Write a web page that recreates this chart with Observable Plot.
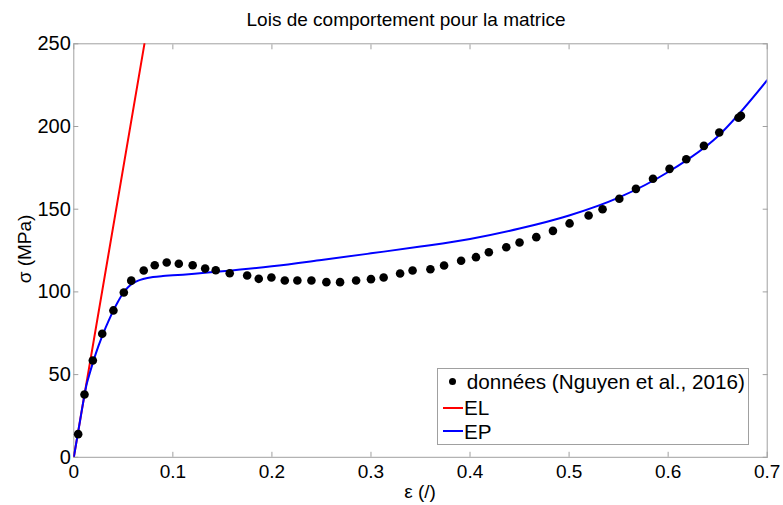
<!DOCTYPE html>
<html>
<head>
<meta charset="utf-8">
<script src="https://cdn.jsdelivr.net/npm/d3@7"></script>
<script src="https://cdn.jsdelivr.net/npm/@observablehq/plot@0.6"></script>
<style>
  html, body { margin: 0; padding: 0; background: #fff; }
  body { font-family: "Liberation Sans", Arial, sans-serif; }
  #wrap { position: relative; width: 783px; height: 505px; overflow: hidden; }
  #wrap svg { position: absolute; left: 0; top: 0; }
  .abs { position: absolute; white-space: nowrap; color: #000; }
</style>
</head>
<body>
<div id="wrap"></div>
<script>
// Data
const dataEps = [0.0044,0.0108,0.0192,0.0287,0.040,0.0505,0.058,0.0706,0.0817,0.0938,0.106,0.120,0.1326,0.1433,0.1574,0.175,0.1867,0.1995,0.213,0.2257,0.2399,0.255,0.2688,0.285,0.300,0.3128,0.3294,0.342,0.360,0.3738,0.391,0.406,0.419,0.4366,0.450,0.4669,0.4837,0.5005,0.5197,0.5338,0.5507,0.5675,0.5847,0.6014,0.6183,0.6361,0.6516,0.671,0.6735];
const dataSig = [14.0,38.0,58.5,74.7,88.8,99.6,106.8,112.9,116.1,117.8,117.0,116.1,114.1,113.1,111.3,109.9,107.9,108.7,106.9,106.9,106.9,105.9,105.9,106.9,107.7,108.7,111.1,112.9,113.7,116.0,118.8,121.0,124.0,127.0,129.9,133.1,136.9,141.4,146.2,150.0,156.3,162.3,168.4,174.4,180.2,188.3,196.4,205.3,206.5];

const elEps = [0, 0.0713];
const elSig = [0, 250];

const epEps = [0,0.005,0.01,0.0125,0.015,0.02,0.025,0.03,0.035,0.04,0.045,0.05,0.055,0.06,0.065,0.07,0.08,0.09,0.1,0.15,0.2,0.25,0.3,0.35,0.4,0.45,0.5,0.55,0.6,0.65,0.7];
const epSig = [0,17.5,35,43,48.5,58.6,67.5,75.3,82.3,88.8,94.5,99.5,103,105.3,106.8,107.8,109,109.6,110,112.5,115.5,119.3,123.3,127.4,132,138.3,146.2,157,172.5,194,228];

const xTicks = [0,0.1,0.2,0.3,0.4,0.5,0.6,0.7];
const yTicks = [0,50,100,150,200,250];

const titleText = "Lois de comportement pour la matrice";
const xLabel = "ε (/)";
const yLabel = "σ (MPa)";
const legendLabels = ["données (Nguyen et al., 2016)", "EL", "EP"];

const pts = dataEps.map((e, i) => ({e, s: dataSig[i]}));
const el = elEps.map((e, i) => ({e, s: elSig[i]}));
const ep = epEps.map((e, i) => ({e, s: epSig[i]}));

const gray = "#a0a0a0";
const fs = 19;

const chart = Plot.plot({
  width: 783,
  height: 505,
  marginLeft: 73.3,
  marginRight: 16.3,
  marginTop: 43.3,
  marginBottom: 48.2,
  style: {fontFamily: '"Liberation Sans", Arial, sans-serif', fontSize: fs + "px", background: "white", color: "black", overflow: "visible"},
  x: {domain: [0, 0.7]},
  y: {domain: [0, 250]},
  marks: [
    Plot.frame({stroke: gray, strokeWidth: 1}),
    // inward ticks on all four sides
    Plot.axisX(xTicks, {anchor: "bottom", tickSize: 5, insetBottom: 5, fill: "none", label: null, stroke: gray}),
    Plot.axisX(xTicks, {anchor: "top", tickSize: 5, insetTop: 5, fill: "none", label: null, stroke: gray}),
    Plot.axisY(yTicks, {anchor: "left", tickSize: 5, insetLeft: 5, fill: "none", label: null, stroke: gray}),
    Plot.axisY(yTicks, {anchor: "right", tickSize: 5, insetRight: 5, fill: "none", label: null, stroke: gray}),
    // tick labels
    Plot.axisX(xTicks, {anchor: "bottom", tickSize: 0, tickPadding: 7, label: null, fill: "black", fontSize: fs, tickFormat: d3.format("")}),
    Plot.axisY(yTicks, {anchor: "left", tickSize: 0, tickPadding: 3, label: null, fill: "black", fontSize: 20}),
    Plot.line(el, {x: "e", y: "s", stroke: "#ff0000", strokeWidth: 2, clip: true}),
    Plot.line(ep, {x: "e", y: "s", stroke: "#0000ff", strokeWidth: 2, curve: "monotone-x", clip: true}),
    Plot.dot(pts, {x: "e", y: "s", r: 4.3, fill: "black", stroke: "none"})
  ]
});

const wrap = document.getElementById("wrap");
wrap.appendChild(chart);

function addDiv(text, css) {
  const d = document.createElement("div");
  d.className = "abs";
  d.textContent = text;
  Object.assign(d.style, css);
  wrap.appendChild(d);
  return d;
}

// title
addDiv(titleText, {left: "406px", top: "8px", fontSize: fs + "px", lineHeight: "24px", transform: "translateX(-50%)"});
// x label
addDiv(xLabel, {left: "420px", top: "480px", fontSize: fs + "px", lineHeight: "24px", transform: "translateX(-50%)"});
// y label
addDiv(yLabel, {left: "25px", top: "249px", fontSize: fs + "px", lineHeight: "24px", transform: "translate(-50%,-50%) rotate(-90deg)"});

// legend
const leg = document.createElement("div");
Object.assign(leg.style, {position: "absolute", left: "437px", top: "368px", width: "312px", height: "77px", border: "1px solid " + gray, background: "white", boxSizing: "border-box"});
wrap.appendChild(leg);
const legFs = 20.7;
const rows = [{y: 12, kind: "dot", color: "black"}, {y: 38.7, kind: "line", color: "#ff0000"}, {y: 62, kind: "line", color: "#0000ff"}];
rows.forEach((r, i) => {
  if (r.kind === "dot") {
    const m = document.createElement("div");
    Object.assign(m.style, {position: "absolute", left: (451.7 - 437 - 3.5) + "px", top: (r.y - 3.5) + "px", width: "7px", height: "7px", borderRadius: "50%", background: r.color});
    leg.appendChild(m);
  } else {
    const m = document.createElement("div");
    Object.assign(m.style, {position: "absolute", left: (441.7 - 437) + "px", top: (r.y - 1) + "px", width: "20.6px", height: "2px", background: r.color});
    leg.appendChild(m);
  }
  const t = document.createElement("div");
  t.textContent = legendLabels[i];
  Object.assign(t.style, {position: "absolute", left: (i === 0 ? 465.7 - 437 : 463 - 437) + "px", top: (r.y - 12.5) + "px", fontSize: legFs + "px", lineHeight: "25px", whiteSpace: "nowrap", color: "black"});
  leg.appendChild(t);
});
</script>
</body>
</html>
